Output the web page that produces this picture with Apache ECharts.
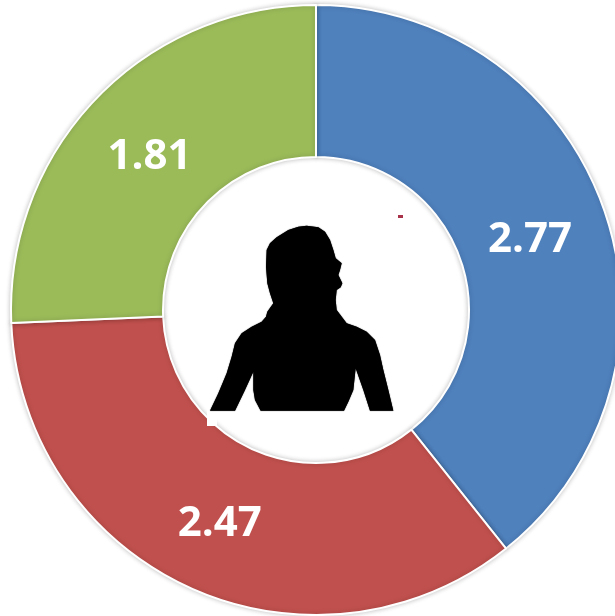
<!DOCTYPE html>
<html><head><meta charset="utf-8">
<style>html,body{margin:0;padding:0;background:#fff}#c{width:615px;height:616px}</style>
<script src="https://cdn.jsdelivr.net/npm/echarts@6/dist/echarts.min.js"></script>
</head><body><div id="c"></div>
<script>
const categories = ['A', 'B', 'C'];
const values = [2.77, 2.47, 1.81];
const colors = ['#4f81bd', '#c0504d', '#9bbb59'];
const silhouette = [[60,632],[85,580],[110,520],[125,470],[135,430],[155,400],[185,380],[215,365],[228,350],[232,335],[250,310],[240,280],[232,250],[228,200],[230,150],[240,130],[260,112],[295,90],[325,80],[350,77],[385,82],[405,95],[420,120],[430,150],[437,175],[455,190],[450,210],[445,225],[457,250],[452,262],[440,270],[437,300],[440,330],[470,370],[500,380],[530,395],[555,420],[570,465],[580,510],[595,570],[610,632],[540,632],[520,570],[497,505],[490,570],[475,605],[462,632],[212,632],[195,600],[190,570],[190,515],[165,570],[135,632]].map(p=>[190+p[0]/3,200+p[1]/3]);
const chart = echarts.init(document.getElementById('c'), null, {renderer:'canvas'});
const labelOffsets = [[-5,7],[0,3],[1,8]];
chart.setOption({
  animation:false,
  backgroundColor:'#fff',
  series:[{
    type:'pie', center:[316,310], radius:[153,305], startAngle:90, clockwise:true,
    silent:true,
    avoidLabelOverlap:false,
    data:categories.map((n,i)=>({name:n,value:values[i],itemStyle:{color:colors[i]},label:{offset:labelOffsets[i]}})),
    itemStyle:{borderColor:'#fff',borderWidth:2,shadowBlur:5,shadowColor:'rgba(0,0,0,0.22)'},
    label:{show:true,position:'inside',formatter:p=>p.value.toFixed(2),color:'#fff',fontFamily:'Open Sans',fontWeight:'bold',fontSize:42},
    labelLine:{show:false}
  }],
  graphic:[
    {type:'rect',shape:{x:207,y:410,width:10,height:16},style:{fill:'#fff'},z:10},
    {type:'rect',shape:{x:398,y:215,width:5,height:3},style:{fill:'#a8324a'},z:10},
    {type:'polygon',shape:{points:silhouette},style:{fill:'#000',shadowBlur:1,shadowColor:'#000'},z:11}
  ]
});
</script></body></html>
